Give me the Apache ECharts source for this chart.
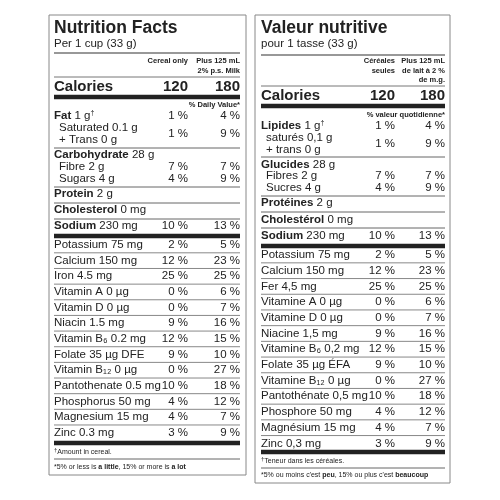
<!DOCTYPE html>
<html><head><meta charset="utf-8">
<script src="https://cdn.jsdelivr.net/npm/echarts@6/dist/echarts.min.js"></script>
<style>html,body{margin:0;padding:0;background:#fff}#c{width:500px;height:500px}</style>
</head><body><div id="c"></div>
<script>
const titles = ["Nutrition Facts", "Valeur nutritive"];
const servings = ["Per 1 cup (33 g)", "pour 1 tasse (33 g)"];
const colHeads = [[["Cereal only"], ["Plus 125 mL", "2% p.s. Milk"]], [["Céréales", "seules"], ["Plus 125 mL", "de lait à 2 %", "de m.g."]]];
const caloriesLabel = ["Calories", "Calories"];
const calories = [120, 180];
const dvHead = ["% Daily Value*", "% valeur quotidienne*"];
const fatLabel = [["Fat", " 1 g"], ["Lipides", " 1 g"]];
const fatDV = [1, 4];
const satLabel = [["Saturated 0.1 g", "+ Trans 0 g"], ["saturés 0,1 g", "+ trans 0 g"]];
const satDV = [1, 9];
const carbLabel = [["Carbohydrate", " 28 g"], ["Glucides", " 28 g"]];
const fibreLabel = ["Fibre 2 g", "Fibres 2 g"];
const fibreDV = [7, 7];
const sugarLabel = ["Sugars 4 g", "Sucres 4 g"];
const sugarDV = [4, 9];
const proteinLabel = [["Protein", " 2 g"], ["Protéines", " 2 g"]];
const cholLabel = [["Cholesterol", " 0 mg"], ["Cholestérol", " 0 mg"]];
const sodiumLabel = [["Sodium", " 230 mg"], ["Sodium", " 230 mg"]];
const sodiumDV = [10, 13];
const mineralsEN = ["Potassium 75 mg","Calcium 150 mg","Iron 4.5 mg","Vitamin A 0 µg","Vitamin D 0 µg","Niacin 1.5 mg","Vitamin B₆ 0.2 mg","Folate 35 µg DFE","Vitamin B₁₂ 0 µg","Pantothenate 0.5 mg","Phosphorus 50 mg","Magnesium 15 mg","Zinc 0.3 mg"];
const mineralsFR = ["Potassium 75 mg","Calcium 150 mg","Fer 4,5 mg","Vitamine A 0 µg","Vitamine D 0 µg","Niacine 1,5 mg","Vitamine B₆ 0,2 mg","Folate 35 µg ÉFA","Vitamine B₁₂ 0 µg","Pantothénate 0,5 mg","Phosphore 50 mg","Magnésium 15 mg","Zinc 0,3 mg"];
const mineralCerealDV = [2,12,25,0,0,9,12,9,0,10,4,4,3];
const mineralMilkDV = [5,23,25,6,7,16,15,10,27,18,12,7,9];
const notes1 = ["Amount in cereal.", "Teneur dans les céréales."];
const notes2 = [[["*5% or less is ",0],["a little",1],[", 15% or more is ",0],["a lot",1]], [["*5% ou moins c'est ",0],["peu",1],[", 15% ou plus c'est ",0],["beaucoup",1]]];

const FONT = '"Liberation Sans", Arial, sans-serif';
const G = [];
function T(x, y, s, size, bold, align, rich) {
  const st = {x, y, text: s, fontFamily: FONT, fontSize: size, fontWeight: bold ? 'bold' : 'normal', fill: '#222', align: align || 'left', verticalAlign: 'middle'};
  if (rich) st.rich = rich;
  G.push({type: 'text', silent: true, style: st});
}
function L(x1, x2, y, w, c) { G.push({type: 'line', silent: true, shape: {x1, y1: y, x2, y2: y}, style: {stroke: c || '#666', lineWidth: w || 1}}); }
function bn(pair, size) { return ['{b|' + pair[0] + '}' + pair[1], {b: {fontFamily: FONT, fontSize: size, fontWeight: 'bold', fill: '#222'}}]; }
const pct = v => v + ' %';

const P = [
  {bx0: 49, bx1: 246, by0: 15, by1: 475, L: 54, R: 240, c1: 188, mins: mineralsEN,
   y: {title: 28, serv: 44, l1: 53, head: [61, 71], l2: 77, cal: 87, t1: 97, dvh: 105, fat: 116, sat: [128, 140], l3: 148, carb: 155, fib: 167, sug: 179, l4: 187, pro: 194, l5: 203, chol: 210, l6: 219, sod: 226, t2: 236, min0: 245, step: 15.65, t3: 443, n1: 452, l7: 459, n2: 467}},
  {bx0: 255, bx1: 450, by0: 15, by1: 483, L: 261, R: 445, c1: 395, mins: mineralsFR,
   y: {title: 28, serv: 44, l1: 55, head: [61, 71, 80], l2: 86, cal: 96, t1: 106, dvh: 115, fat: 126, sat: [138, 150], l3: 157, carb: 165, fib: 176, sug: 188, l4: 196, pro: 203, l5: 212, chol: 220, l6: 228, sod: 236, t2: 246, min0: 255, step: 15.7, t3: 452, n1: 461, l7: 468, n2: 475}}
];

P.forEach((p, i) => {
  const y = p.y, F = 11.5;
  G.push({type: 'rect', silent: true, shape: {x: p.bx0, y: p.by0, width: p.bx1 - p.bx0, height: p.by1 - p.by0}, style: {fill: '#fff', stroke: '#888', lineWidth: 1}});
  T(p.L, y.title, titles[i], 17.5, true);
  T(p.L, y.serv, servings[i], 11.5, false);
  L(p.L, p.R, y.l1, 1.2, '#333');
  colHeads[i][0].forEach((s, k) => T(p.c1, y.head[k], s, 7.5, true, 'right'));
  colHeads[i][1].forEach((s, k) => T(p.R, y.head[k], s, 7.5, true, 'right'));
  L(p.L, p.R, y.l2, 1, '#777');
  T(p.L, y.cal, caloriesLabel[i], 15, true);
  T(p.c1, y.cal, String(calories[0]), 15, true, 'right');
  T(p.R, y.cal, String(calories[1]), 15, true, 'right');
  L(p.L, p.R, y.t1, 4.5, '#222');
  T(p.R, y.dvh, dvHead[i], 7.5, true, 'right');
  let r = bn(fatLabel[i], F);
  T(p.L, y.fat, r[0] + '{s|†}', F, false, 'left', Object.assign(r[1], {s: {fontFamily: FONT, fontSize: 7, fill: '#222', padding: [0, 0, 6, 0]}}));
  T(p.c1, y.fat, pct(fatDV[0]), F, false, 'right'); T(p.R, y.fat, pct(fatDV[1]), F, false, 'right');
  T(p.L + 5, y.sat[0], satLabel[i][0], F); T(p.L + 5, y.sat[1], satLabel[i][1], F);
  const sm = (y.sat[0] + y.sat[1]) / 2;
  T(p.c1, sm, pct(satDV[0]), F, false, 'right'); T(p.R, sm, pct(satDV[1]), F, false, 'right');
  L(p.L, p.R, y.l3);
  r = bn(carbLabel[i], F); T(p.L, y.carb, r[0], F, false, 'left', r[1]);
  T(p.L + 5, y.fib, fibreLabel[i], F); T(p.c1, y.fib, pct(fibreDV[0]), F, false, 'right'); T(p.R, y.fib, pct(fibreDV[1]), F, false, 'right');
  T(p.L + 5, y.sug, sugarLabel[i], F); T(p.c1, y.sug, pct(sugarDV[0]), F, false, 'right'); T(p.R, y.sug, pct(sugarDV[1]), F, false, 'right');
  L(p.L, p.R, y.l4);
  r = bn(proteinLabel[i], F); T(p.L, y.pro, r[0], F, false, 'left', r[1]);
  L(p.L, p.R, y.l5);
  r = bn(cholLabel[i], F); T(p.L, y.chol, r[0], F, false, 'left', r[1]);
  L(p.L, p.R, y.l6);
  r = bn(sodiumLabel[i], F); T(p.L, y.sod, r[0], F, false, 'left', r[1]);
  T(p.c1, y.sod, pct(sodiumDV[0]), F, false, 'right'); T(p.R, y.sod, pct(sodiumDV[1]), F, false, 'right');
  L(p.L, p.R, y.t2, 4.5, '#222');
  p.mins.forEach((m, k) => {
    const yy = y.min0 + k * y.step;
    T(p.L, yy, m, F);
    T(p.c1, yy, pct(mineralCerealDV[k]), F, false, 'right');
    T(p.R, yy, pct(mineralMilkDV[k]), F, false, 'right');
    if (k < p.mins.length - 1) L(p.L, p.R, yy + y.step / 2, 1, '#888');
  });
  L(p.L, p.R, y.t3, 4.5, '#222');
  T(p.L, y.n1, '{s|†}' + notes1[i], 7, false, 'left', {s: {fontFamily: FONT, fontSize: 6, fill: '#222', padding: [0, 0, 4, 0]}});
  L(p.L, p.R, y.l7, 1, '#666');
  T(p.L, y.n2, notes2[i].map(seg => seg[1] ? '{b|' + seg[0] + '}' : seg[0]).join(''), 7, false, 'left', {b: {fontFamily: FONT, fontSize: 7, fontWeight: 'bold', fill: '#222'}});
});

const chart = echarts.init(document.getElementById('c'));
chart.setOption({backgroundColor: '#fff', animation: false, graphic: {elements: G}});
</script></body></html>
